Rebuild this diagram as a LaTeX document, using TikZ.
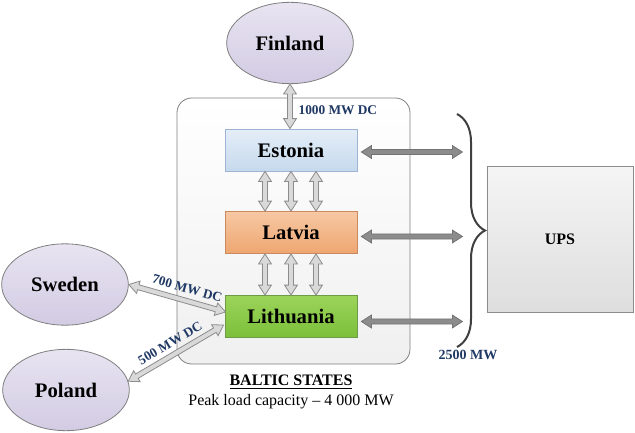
\documentclass[tikz,border=0pt]{standalone}
\usepackage{fontspec}
\setmainfont{Liberation Serif}
\usetikzlibrary{calc}
\usetikzlibrary{shapes.geometric}
\usetikzlibrary{decorations.pathreplacing}

\definecolor{lblblue}{HTML}{1F3864}
\definecolor{frame}{HTML}{7F7F7F}
\definecolor{estTop}{HTML}{E4EEF8}
\definecolor{estBot}{HTML}{C6D9EC}
\definecolor{estLine}{HTML}{9DB5D2}
\definecolor{latTop}{HTML}{F7C8A4}
\definecolor{latBot}{HTML}{EEA670}
\definecolor{latLine}{HTML}{C88A5E}
\definecolor{litTop}{HTML}{9CD45A}
\definecolor{litBot}{HTML}{7BBF3A}
\definecolor{litLine}{HTML}{6E9B45}
\definecolor{cTop}{HTML}{E8E4F1}
\definecolor{cBot}{HTML}{D2CBE3}

% hollow double block arrow between two points
\tikzset{ax/.style={shift={(\p1)},rotate=\n1}}
\newcommand{\blockarrow}[3][]{%
  \draw[#1] let \p1=(#2), \p2=(#3),
      \n1={atan2(\y2-\y1,\x2-\x1)}, \n2={veclen(\x2-\x1,\y2-\y1)} in
    ([ax]0pt,0pt) -- ([ax]7.5pt,4.8pt) -- ([ax]7.5pt,1.9pt)
    -- ([ax]\n2-7.5pt,1.9pt) -- ([ax]\n2-7.5pt,4.8pt) -- ([ax]\n2,0pt)
    -- ([ax]\n2-7.5pt,-4.8pt) -- ([ax]\n2-7.5pt,-1.9pt)
    -- ([ax]7.5pt,-1.9pt) -- ([ax]7.5pt,-4.8pt) -- cycle;}

\begin{document}
\begin{tikzpicture}[x=0.75pt,y=-0.75pt,
    country/.style={ellipse, draw=frame, line width=0.6pt, top color=cTop,
      bottom color=cBot, minimum width=95pt, minimum height=61pt,
      font=\fontsize{15.5}{18}\selectfont\bfseries},
    state/.style={rectangle, line width=0.6pt, minimum width=99pt,
      minimum height=31.5pt, font=\fontsize{15.5}{18}\selectfont\bfseries},
    lightarrow/.style={draw=black!45, fill=black!15, line width=0.6pt},
    darkarrow/.style={draw=black!55, fill=black!45, line width=0.6pt},
    lbl/.style={text=lblblue, inner sep=1pt, font=\fontsize{10}{12}\selectfont\bfseries}]
  \useasboundingbox (0,0) rectangle (635,432);

  % container
  \node (baltic) [rectangle, rounded corners=11pt, draw=frame, line width=0.6pt,
    top color=white, bottom color=black!6, minimum width=174.75pt,
    minimum height=199.5pt] at (293.5,231) {};

  % countries
  \node (Finland) [country] at (290,43) {Finland};
  \node (Sweden) [country] at (65,284.5) {Sweden};
  \node (Poland) [country] at (66,390) {Poland};

  % baltic states
  \node (Estonia) [state, draw=estLine, top color=estTop, bottom color=estBot] at (291,150) {Estonia};
  \node (Latvia) [state, draw=latLine, top color=latTop, bottom color=latBot] at (291,232.5) {Latvia};
  \node (Lithuania) [state, draw=litLine, top color=litTop, bottom color=litBot] at (291,316.5) {Lithuania};

  % UPS
  \node (UPS) [rectangle, draw=black!45, line width=0.6pt, top color=black!4,
    bottom color=black!13, minimum width=109.5pt, minimum height=109.5pt,
    font=\fontsize{12}{14}\selectfont\bfseries] at (560,239) {UPS};

  % links
  \blockarrow[lightarrow]{Finland.south}{Finland.south |- Estonia.north}
  \node (fiLbl) [lbl, anchor=west] at (297,110) {1000 MW DC};
  \foreach \dx in {-26,0,25} {
    \blockarrow[lightarrow]{$(Estonia.south)+(\dx,0)$}{$(Latvia.north)+(\dx,0)$}
    \blockarrow[lightarrow]{$(Latvia.south)+(\dx,0)$}{$(Lithuania.north)+(\dx,0)$}
  }

  \coordinate (swIn) at ($(Lithuania.west)+(1,-4.5)$);
  \coordinate (poIn) at ($(Lithuania.west)+(-1,8.5)$);
  \blockarrow[lightarrow]{Sweden.east}{swIn}
  \blockarrow[lightarrow]{Poland.8}{poIn}
  \path (Sweden.east) -- (swIn) node (swLbl) [lbl, pos=0.57, sloped, above=4.5pt] {700 MW DC};
  \path (Poland.8) -- (poIn) node (poLbl) [lbl, pos=0.5, sloped, above=4pt] {500 MW DC};

  % to the brace
  \coordinate (braceTop) at (457,114);
  \coordinate (braceBot) at (457,347);
  \foreach \st/\dy in {Estonia/2,Latvia/4,Lithuania/5} {
    \coordinate (\st Out) at ($(\st.east)+(105,\dy)$);
    \blockarrow[darkarrow]{$(\st.east)+(4,\dy)$}{\st Out}
  }
  \draw[black!75, line width=1.5pt, decorate, decoration={brace, amplitude=21pt}]
    (braceTop) -- (braceBot);
  \node (upsLbl) [lbl, font=\fontsize{10.5}{12}\selectfont\bfseries] at (468,355) {2500 MW};

  % caption
  \node (capTitle) [font=\fontsize{12}{14}\selectfont\bfseries] at (291,382)
    {\underline{BALTIC STATES}};
  \node (capText) [font=\fontsize{12}{14}\selectfont] at (291,402)
    {Peak load capacity – 4 000 MW};
\end{tikzpicture}
\end{document}
